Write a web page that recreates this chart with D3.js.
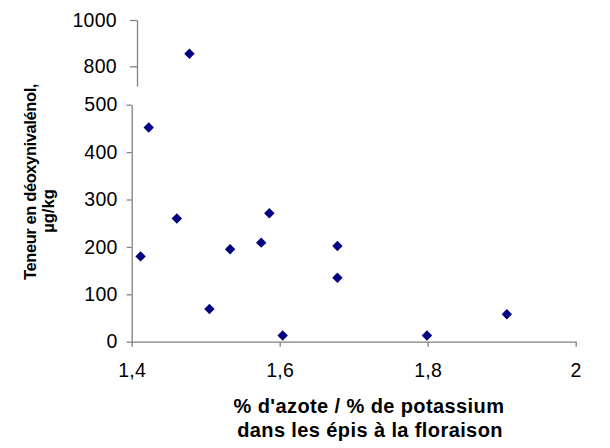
<!DOCTYPE html>
<html><head><meta charset="utf-8">
<script src="https://cdn.jsdelivr.net/npm/d3@7"></script>
<style>
html,body{margin:0;padding:0;background:#fff;}
text{font-family:"Liberation Sans",Arial,sans-serif;}
</style></head>
<body>
<script>
// Data
const ratioN_K = [1.412, 1.423, 1.461, 1.505, 1.533, 1.575, 1.586, 1.604, 1.678, 1.678, 1.799, 1.907];
const donLow   = [180, 452, 260, 69, 195, 209, 271, 13, 202, 135, 13, 58];
const ratioHigh = [1.478];
const donHigh   = [854];
const xTicks = [1.4, 1.6, 1.8, 2.0];
const yTicksLow = [0, 100, 200, 300, 400, 500];
const yTicksHigh = [800, 1000];
const xTitle = ["% d'azote / % de potassium", "dans les épis à la floraison"];
const yTitle = ["Teneur en déoxynivalénol,", "µg/kg"];

const W = 610, H = 448;
const svg = d3.select("body").append("svg").attr("width", W).attr("height", H);

const x = d3.scaleLinear().domain([1.4, 2.0]).range([131.7, 575.7]);
const yLow = d3.scaleLinear().domain([0, 500]).range([341.7, 104.7]);
const yHigh = d3.scaleLinear().domain([715, 1000]).range([86, 20]);

const fmtX = d => d === 2 ? "2" : d3.format(".1f")(d).replace(".", ",");
const axisColor = "#808080";
const fs = "19.5px";

function styleAxis(g) {
  g.selectAll(".domain").attr("stroke", axisColor).attr("stroke-width", 1.3);
  g.selectAll(".tick line").attr("stroke", axisColor).attr("stroke-width", 1.3);
  g.selectAll(".tick text").attr("fill", "#000").style("font-size", fs)
    .style("font-family", '"Liberation Sans",Arial,sans-serif').style("letter-spacing", "0.3px");
}

// X axis
const gx = svg.append("g").attr("transform", `translate(0,${yLow(0)})`)
  .call(d3.axisBottom(x).tickValues(xTicks).tickFormat(fmtX).tickSize(5).tickSizeOuter(0).tickPadding(16));
styleAxis(gx);

// Lower Y axis
const gyl = svg.append("g").attr("transform", `translate(${x(1.4)},0)`)
  .call(d3.axisLeft(yLow).tickValues(yTicksLow).tickFormat(d3.format("d")).tickSize(5).tickSizeOuter(0).tickPadding(9));
styleAxis(gyl);

// Upper Y axis (broken part)
const gyh = svg.append("g").attr("transform", `translate(${x(1.4) + 5.3},0)`)
  .call(d3.axisLeft(yHigh).tickValues(yTicksHigh).tickFormat(d3.format("d")).tickSize(7).tickSizeOuter(0).tickPadding(13));
styleAxis(gyh);

// Markers
const diamond = d3.symbol().type(d3.symbolSquare).size(54);
const col = "#000080";
svg.append("g").selectAll("path").data(ratioN_K.map((r, i) => [r, donLow[i]])).join("path")
  .attr("d", diamond)
  .attr("fill", col)
  .attr("transform", d => `translate(${x(d[0])},${yLow(d[1])}) rotate(45)`);
svg.append("g").selectAll("path").data(ratioHigh.map((r, i) => [r, donHigh[i]])).join("path")
  .attr("d", diamond)
  .attr("fill", col)
  .attr("transform", d => `translate(${x(d[0])},${yHigh(d[1])}) rotate(45)`);

// X title
svg.append("text").attr("x", 369).attr("y", 413).attr("text-anchor", "middle")
  .style("font-size", "20px").style("font-weight", "bold").style("letter-spacing", "0.4px").text(xTitle[0]);
svg.append("text").attr("x", 370).attr("y", 437).attr("text-anchor", "middle")
  .style("font-size", "20px").style("font-weight", "bold").style("letter-spacing", "0.4px").text(xTitle[1]);

// Y title
svg.append("text").attr("transform", "translate(36,182) rotate(-90)").attr("text-anchor", "middle")
  .style("font-size", "16.5px").style("font-weight", "bold").style("letter-spacing", "-0.4px").text(yTitle[0]);
svg.append("text").attr("transform", "translate(54,211) rotate(-90)").attr("text-anchor", "middle")
  .style("font-size", "16.5px").style("font-weight", "bold").text(yTitle[1]);
</script>
</body></html>
